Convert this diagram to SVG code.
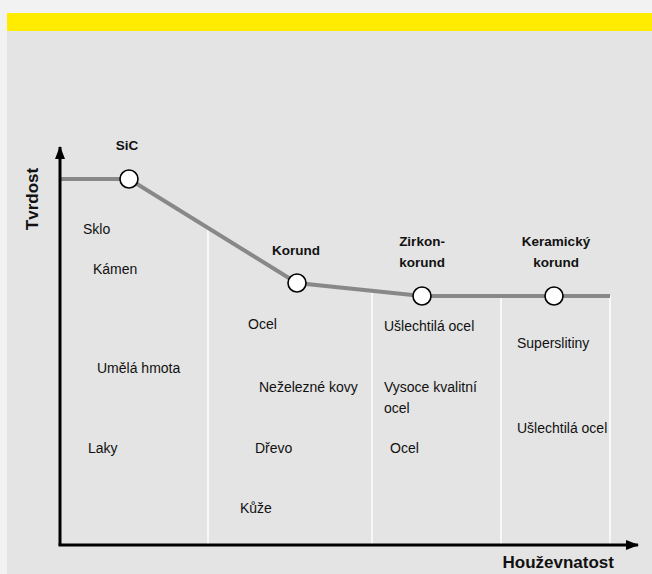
<svg xmlns="http://www.w3.org/2000/svg" width="652" height="574" viewBox="0 0 652 574">
<defs>
<style>
.t{font-family:"Liberation Sans",Arial,sans-serif;font-size:14px;fill:#111}
.b{font-family:"Liberation Sans",Arial,sans-serif;font-size:13.5px;font-weight:bold;fill:#111;text-anchor:middle}
.ax{font-family:"Liberation Sans",Arial,sans-serif;font-size:17px;font-weight:bold;fill:#111}
.div{stroke:#ffffff;stroke-width:1.5;fill:none}
.axis{stroke:#000;stroke-width:3;fill:none}
.node{fill:#fff;stroke:#000;stroke-width:1.6}
</style>
<marker id="arr" markerWidth="14" markerHeight="12" refX="12" refY="6" orient="auto" markerUnits="userSpaceOnUse">
<path d="M0,1 L13,6 L0,11 Z" fill="#000"/>
</marker>
</defs>
<rect x="0" y="0" width="652" height="574" fill="#f2f2f2"/>
<rect x="7" y="13" width="645" height="18" fill="#ffec00"/>
<rect x="7" y="31" width="645" height="543" fill="#e4e4e4"/>
<g id="dividers">
<line class="div" x1="208" y1="228" x2="208" y2="545"/>
<line class="div" x1="372" y1="290" x2="372" y2="545"/>
<line class="div" x1="501" y1="296" x2="501" y2="545"/>
<line class="div" x1="610" y1="296" x2="610" y2="545"/>
</g>
<g id="connectors">
<path d="M60,179 L129,179 L297,283 L422,296 L610,296" fill="none" stroke="#888" stroke-width="4"/>
<line class="axis" x1="60" y1="545" x2="60" y2="147" marker-end="url(#arr)"/>
<line class="axis" x1="58.5" y1="545" x2="638" y2="545" marker-end="url(#arr)"/>
</g>
<g id="sic">
<circle class="node" cx="129" cy="179" r="9"/>
<text class="b" x="127" y="150">SiC</text>
</g>
<g id="korund">
<circle class="node" cx="297" cy="283" r="9"/>
<text class="b" x="296" y="255">Korund</text>
</g>
<g id="zirkonkorund">
<circle class="node" cx="422" cy="296" r="9"/>
<text class="b" x="422" y="246">Zirkon-</text>
<text class="b" x="422" y="267">korund</text>
</g>
<g id="keramicky">
<circle class="node" cx="554" cy="296" r="9"/>
<text class="b" x="556" y="246">Keramický</text>
<text class="b" x="556" y="267">korund</text>
</g>
<g id="labels">
<text class="ax" x="38" y="199" text-anchor="middle" transform="rotate(-90 38 199)">Tvrdost</text>
<text class="ax" x="614" y="568" text-anchor="end">Houževnatost</text>
<text class="t" x="83" y="234">Sklo</text>
<text class="t" x="93" y="274">Kámen</text>
<text class="t" x="97" y="373">Umělá hmota</text>
<text class="t" x="88" y="453">Laky</text>
<text class="t" x="248" y="329">Ocel</text>
<text class="t" x="259" y="392">Neželezné kovy</text>
<text class="t" x="255" y="453">Dřevo</text>
<text class="t" x="240" y="513">Kůže</text>
<text class="t" x="384" y="331">Ušlechtilá ocel</text>
<text class="t" x="384" y="392">Vysoce kvalitní</text>
<text class="t" x="384" y="413">ocel</text>
<text class="t" x="390" y="453">Ocel</text>
<text class="t" x="517" y="348">Superslitiny</text>
<text class="t" x="517" y="433">Ušlechtilá ocel</text>
</g>
</svg>
